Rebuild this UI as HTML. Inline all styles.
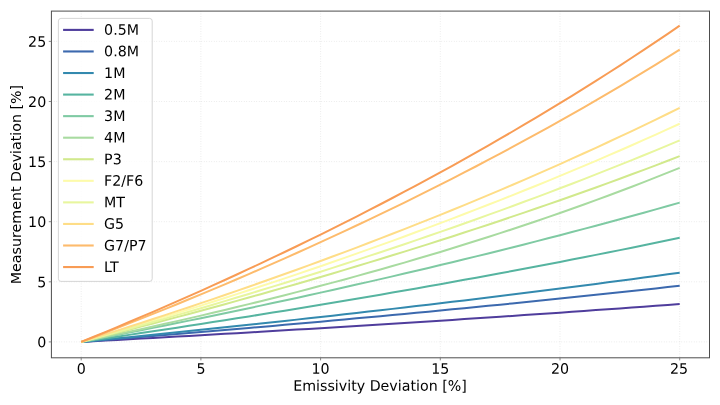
<!DOCTYPE html>
<html><head><meta charset="utf-8"><title>Measurement Deviation vs Emissivity Deviation</title>
<style>
html,body{margin:0;padding:0;background:#fff;}
body{width:720px;height:405px;overflow:hidden;}
svg{display:block;}
text{font-family:"DejaVu Sans", "Liberation Sans", sans-serif;font-size:14.5px;fill:#000;}
</style></head><body>
<svg width="720" height="405" viewBox="0 0 720 405">
<rect x="0" y="0" width="720" height="405" fill="#ffffff"/>

<g stroke="#dbdbdb" stroke-width="0.75" stroke-dasharray="0.7 1.8" fill="none">
<line x1="81.20" y1="11.1" x2="81.20" y2="357.8"/>
<line x1="51.4" y1="341.90" x2="709.5" y2="341.90"/>
<line x1="200.90" y1="11.1" x2="200.90" y2="357.8"/>
<line x1="51.4" y1="281.80" x2="709.5" y2="281.80"/>
<line x1="320.60" y1="11.1" x2="320.60" y2="357.8"/>
<line x1="51.4" y1="221.70" x2="709.5" y2="221.70"/>
<line x1="440.30" y1="11.1" x2="440.30" y2="357.8"/>
<line x1="51.4" y1="161.60" x2="709.5" y2="161.60"/>
<line x1="560.00" y1="11.1" x2="560.00" y2="357.8"/>
<line x1="51.4" y1="101.50" x2="709.5" y2="101.50"/>
<line x1="679.70" y1="11.1" x2="679.70" y2="357.8"/>
<line x1="51.4" y1="41.40" x2="709.5" y2="41.40"/>
</g>
<g fill="none" stroke-width="2" stroke-linecap="butt" stroke-linejoin="round">
<polyline stroke="#4f3d9c" points="81.20,341.90 93.17,341.25 105.14,340.60 117.11,339.94 129.08,339.28 141.05,338.61 153.02,337.95 164.99,337.27 176.96,336.60 188.93,335.92 200.90,335.23 212.87,334.55 224.84,333.86 236.81,333.16 248.78,332.46 260.75,331.75 272.72,331.05 284.69,330.33 296.66,329.62 308.63,328.90 320.60,328.17 332.57,327.44 344.54,326.70 356.51,325.96 368.48,325.22 380.45,324.47 392.42,323.72 404.39,322.96 416.36,322.20 428.33,321.43 440.30,320.65 452.27,319.88 464.24,319.09 476.21,318.30 488.18,317.51 500.15,316.71 512.12,315.91 524.09,315.10 536.06,314.28 548.03,313.46 560.00,312.63 571.97,311.80 583.94,310.96 595.91,310.12 607.88,309.27 619.85,308.41 631.82,307.55 643.79,306.68 655.76,305.81 667.73,304.92 679.70,304.04"/>
<polyline stroke="#3c69ae" points="81.20,341.90 93.17,340.94 105.14,339.98 117.11,339.01 129.08,338.04 141.05,337.06 153.02,336.08 164.99,335.09 176.96,334.09 188.93,333.09 200.90,332.08 212.87,331.06 224.84,330.04 236.81,329.01 248.78,327.98 260.75,326.94 272.72,325.89 284.69,324.84 296.66,323.78 308.63,322.71 320.60,321.64 332.57,320.56 344.54,319.47 356.51,318.37 368.48,317.27 380.45,316.16 392.42,315.05 404.39,313.92 416.36,312.79 428.33,311.65 440.30,310.50 452.27,309.35 464.24,308.19 476.21,307.01 488.18,305.84 500.15,304.65 512.12,303.45 524.09,302.25 536.06,301.04 548.03,299.81 560.00,298.58 571.97,297.34 583.94,296.10 595.91,294.84 607.88,293.57 619.85,292.29 631.82,291.01 643.79,289.71 655.76,288.41 667.73,287.09 679.70,285.77"/>
<polyline stroke="#3389ae" points="81.20,341.90 93.17,340.73 105.14,339.55 117.11,338.36 129.08,337.16 141.05,335.96 153.02,334.75 164.99,333.53 176.96,332.31 188.93,331.08 200.90,329.84 212.87,328.59 224.84,327.33 236.81,326.07 248.78,324.80 260.75,323.52 272.72,322.23 284.69,320.93 296.66,319.63 308.63,318.31 320.60,316.99 332.57,315.66 344.54,314.32 356.51,312.97 368.48,311.61 380.45,310.25 392.42,308.87 404.39,307.48 416.36,306.09 428.33,304.68 440.30,303.26 452.27,301.84 464.24,300.40 476.21,298.96 488.18,297.50 500.15,296.03 512.12,294.56 524.09,293.07 536.06,291.57 548.03,290.06 560.00,288.54 571.97,287.00 583.94,285.46 595.91,283.90 607.88,282.33 619.85,280.75 631.82,279.16 643.79,277.56 655.76,275.94 667.73,274.31 679.70,272.66"/>
<polyline stroke="#56b4a0" points="81.20,341.90 93.17,340.16 105.14,338.41 117.11,336.64 129.08,334.87 141.05,333.08 153.02,331.28 164.99,329.47 176.96,327.65 188.93,325.82 200.90,323.97 212.87,322.11 224.84,320.24 236.81,318.35 248.78,316.45 260.75,314.54 272.72,312.61 284.69,310.68 296.66,308.72 308.63,306.76 320.60,304.78 332.57,302.78 344.54,300.77 356.51,298.75 368.48,296.71 380.45,294.66 392.42,292.59 404.39,290.51 416.36,288.41 428.33,286.29 440.30,284.16 452.27,282.01 464.24,279.85 476.21,277.67 488.18,275.47 500.15,273.26 512.12,271.02 524.09,268.77 536.06,266.51 548.03,264.22 560.00,261.92 571.97,259.59 583.94,257.25 595.91,254.89 607.88,252.51 619.85,250.11 631.82,247.69 643.79,245.25 655.76,242.79 667.73,240.31 679.70,237.81"/>
<polyline stroke="#7fcaa3" points="81.20,341.90 93.17,339.60 105.14,337.29 117.11,334.96 129.08,332.61 141.05,330.24 153.02,327.86 164.99,325.46 176.96,323.05 188.93,320.62 200.90,318.17 212.87,315.70 224.84,313.21 236.81,310.71 248.78,308.18 260.75,305.64 272.72,303.08 284.69,300.50 296.66,297.90 308.63,295.28 320.60,292.64 332.57,289.98 344.54,287.30 356.51,284.60 368.48,281.88 380.45,279.13 392.42,276.37 404.39,273.58 416.36,270.77 428.33,267.94 440.30,265.08 452.27,262.20 464.24,259.30 476.21,256.37 488.18,253.42 500.15,250.45 512.12,247.44 524.09,244.42 536.06,241.37 548.03,238.29 560.00,235.18 571.97,232.05 583.94,228.89 595.91,225.71 607.88,222.49 619.85,219.25 631.82,215.98 643.79,212.68 655.76,209.34 667.73,205.98 679.70,202.59"/>
<polyline stroke="#a8dba0" points="81.20,341.90 93.17,339.41 105.14,336.89 117.11,334.34 129.08,331.76 141.05,329.15 153.02,326.51 164.99,323.83 176.96,321.12 188.93,318.38 200.90,315.60 212.87,312.79 224.84,309.95 236.81,307.07 248.78,304.15 260.75,301.20 272.72,298.20 284.69,295.17 296.66,292.10 308.63,288.99 320.60,285.84 332.57,282.65 344.54,279.42 356.51,276.14 368.48,272.82 380.45,269.45 392.42,266.04 404.39,262.59 416.36,259.08 428.33,255.53 440.30,251.93 452.27,248.27 464.24,244.57 476.21,240.82 488.18,237.01 500.15,233.14 512.12,229.23 524.09,225.25 536.06,221.22 548.03,217.13 560.00,212.97 571.97,208.76 583.94,204.49 595.91,200.15 607.88,195.74 619.85,191.27 631.82,186.73 643.79,182.12 655.76,177.43 667.73,172.68 679.70,167.85"/>
<polyline stroke="#d1e98c" points="81.20,341.90 93.17,338.89 105.14,335.85 117.11,332.79 129.08,329.71 141.05,326.61 153.02,323.48 164.99,320.32 176.96,317.14 188.93,313.94 200.90,310.71 212.87,307.46 224.84,304.18 236.81,300.87 248.78,297.54 260.75,294.18 272.72,290.79 284.69,287.38 296.66,283.93 308.63,280.46 320.60,276.96 332.57,273.43 344.54,269.87 356.51,266.28 368.48,262.66 380.45,259.01 392.42,255.33 404.39,251.61 416.36,247.87 428.33,244.09 440.30,240.28 452.27,236.43 464.24,232.55 476.21,228.63 488.18,224.68 500.15,220.70 512.12,216.67 524.09,212.61 536.06,208.51 548.03,204.38 560.00,200.20 571.97,195.99 583.94,191.74 595.91,187.44 607.88,183.11 619.85,178.73 631.82,174.31 643.79,169.85 655.76,165.34 667.73,160.79 679.70,156.19"/>
<polyline stroke="#fdfbaa" points="81.20,341.90 93.17,338.40 105.14,334.88 117.11,331.32 129.08,327.74 141.05,324.13 153.02,320.49 164.99,316.81 176.96,313.11 188.93,309.38 200.90,305.62 212.87,301.82 224.84,298.00 236.81,294.14 248.78,290.25 260.75,286.32 272.72,282.37 284.69,278.37 296.66,274.35 308.63,270.29 320.60,266.19 332.57,262.06 344.54,257.89 356.51,253.68 368.48,249.43 380.45,245.15 392.42,240.83 404.39,236.47 416.36,232.06 428.33,227.62 440.30,223.14 452.27,218.61 464.24,214.05 476.21,209.44 488.18,204.78 500.15,200.08 512.12,195.34 524.09,190.55 536.06,185.71 548.03,180.83 560.00,175.89 571.97,170.91 583.94,165.88 595.91,160.80 607.88,155.66 619.85,150.48 631.82,145.24 643.79,139.95 655.76,134.60 667.73,129.20 679.70,123.74"/>
<polyline stroke="#e8f69e" points="81.20,341.90 93.17,338.65 105.14,335.37 117.11,332.07 129.08,328.74 141.05,325.39 153.02,322.01 164.99,318.60 176.96,315.16 188.93,311.70 200.90,308.21 212.87,304.69 224.84,301.14 236.81,297.57 248.78,293.96 260.75,290.32 272.72,286.66 284.69,282.96 296.66,279.23 308.63,275.47 320.60,271.68 332.57,267.85 344.54,263.99 356.51,260.10 368.48,256.17 380.45,252.21 392.42,248.22 404.39,244.19 416.36,240.12 428.33,236.02 440.30,231.88 452.27,227.70 464.24,223.48 476.21,219.23 488.18,214.93 500.15,210.60 512.12,206.22 524.09,201.81 536.06,197.35 548.03,192.85 560.00,188.30 571.97,183.71 583.94,179.08 595.91,174.40 607.88,169.68 619.85,164.91 631.82,160.09 643.79,155.22 655.76,150.31 667.73,145.34 679.70,140.32"/>
<polyline stroke="#fedd87" points="81.20,341.90 93.17,338.17 105.14,334.41 117.11,330.61 129.08,326.79 141.05,322.93 153.02,319.05 164.99,315.12 176.96,311.17 188.93,307.18 200.90,303.16 212.87,299.11 224.84,295.02 236.81,290.89 248.78,286.73 260.75,282.53 272.72,278.30 284.69,274.03 296.66,269.72 308.63,265.37 320.60,260.98 332.57,256.55 344.54,252.08 356.51,247.58 368.48,243.03 380.45,238.44 392.42,233.80 404.39,229.12 416.36,224.40 428.33,219.64 440.30,214.82 452.27,209.97 464.24,205.06 476.21,200.11 488.18,195.11 500.15,190.06 512.12,184.96 524.09,179.81 536.06,174.61 548.03,169.36 560.00,164.05 571.97,158.69 583.94,153.28 595.91,147.81 607.88,142.28 619.85,136.69 631.82,131.05 643.79,125.35 655.76,119.58 667.73,113.76 679.70,107.87"/>
<polyline stroke="#fdbb6c" points="81.20,341.90 93.17,337.33 105.14,332.73 117.11,328.08 129.08,323.39 141.05,318.66 153.02,313.88 164.99,309.07 176.96,304.21 188.93,299.30 200.90,294.35 212.87,289.35 224.84,284.30 236.81,279.21 248.78,274.07 260.75,268.88 272.72,263.65 284.69,258.36 296.66,253.02 308.63,247.63 320.60,242.18 332.57,236.69 344.54,231.14 356.51,225.53 368.48,219.87 380.45,214.15 392.42,208.37 404.39,202.54 416.36,196.64 428.33,190.69 440.30,184.67 452.27,178.59 464.24,172.45 476.21,166.24 488.18,159.97 500.15,153.63 512.12,147.22 524.09,140.74 536.06,134.20 548.03,127.58 560.00,120.89 571.97,114.12 583.94,107.28 595.91,100.37 607.88,93.37 619.85,86.30 631.82,79.14 643.79,71.91 655.76,64.59 667.73,57.18 679.70,49.69"/>
<polyline stroke="#f89c55" points="81.20,341.90 93.17,337.00 105.14,332.05 117.11,327.06 129.08,322.02 141.05,316.94 153.02,311.80 164.99,306.62 176.96,301.39 188.93,296.12 200.90,290.79 212.87,285.41 224.84,279.97 236.81,274.49 248.78,268.95 260.75,263.36 272.72,257.71 284.69,252.01 296.66,246.25 308.63,240.43 320.60,234.55 332.57,228.62 344.54,222.62 356.51,216.56 368.48,210.44 380.45,204.26 392.42,198.01 404.39,191.70 416.36,185.32 428.33,178.87 440.30,172.36 452.27,165.77 464.24,159.12 476.21,152.39 488.18,145.59 500.15,138.71 512.12,131.76 524.09,124.73 536.06,117.62 548.03,110.43 560.00,103.16 571.97,95.81 583.94,88.37 595.91,80.85 607.88,73.24 619.85,65.54 631.82,57.75 643.79,49.87 655.76,41.89 667.73,33.82 679.70,25.65"/>
</g>
<rect x="51.4" y="11.1" width="658.10" height="346.70" fill="none" stroke="#4d4d4d" stroke-width="1"/>
<g stroke="#6a6a6a" stroke-width="0.8">
<line x1="81.20" y1="357.8" x2="81.20" y2="360.40000000000003"/>
<line x1="48.8" y1="341.90" x2="51.4" y2="341.90"/>
<line x1="200.90" y1="357.8" x2="200.90" y2="360.40000000000003"/>
<line x1="48.8" y1="281.80" x2="51.4" y2="281.80"/>
<line x1="320.60" y1="357.8" x2="320.60" y2="360.40000000000003"/>
<line x1="48.8" y1="221.70" x2="51.4" y2="221.70"/>
<line x1="440.30" y1="357.8" x2="440.30" y2="360.40000000000003"/>
<line x1="48.8" y1="161.60" x2="51.4" y2="161.60"/>
<line x1="560.00" y1="357.8" x2="560.00" y2="360.40000000000003"/>
<line x1="48.8" y1="101.50" x2="51.4" y2="101.50"/>
<line x1="679.70" y1="357.8" x2="679.70" y2="360.40000000000003"/>
<line x1="48.8" y1="41.40" x2="51.4" y2="41.40"/>
</g>
<text transform="translate(81.20 373.75) rotate(0.03) scale(0.981 1)" text-anchor="middle">0</text>
<text transform="translate(46.20 347.30) rotate(0.03) scale(0.981 1)" text-anchor="end">0</text>
<text transform="translate(200.90 373.75) rotate(0.03) scale(0.981 1)" text-anchor="middle">5</text>
<text transform="translate(46.20 287.20) rotate(0.03) scale(0.981 1)" text-anchor="end">5</text>
<text transform="translate(320.60 373.75) rotate(0.03) scale(0.981 1)" text-anchor="middle">10</text>
<text transform="translate(46.20 227.10) rotate(0.03) scale(0.981 1)" text-anchor="end">10</text>
<text transform="translate(440.30 373.75) rotate(0.03) scale(0.981 1)" text-anchor="middle">15</text>
<text transform="translate(46.20 167.00) rotate(0.03) scale(0.981 1)" text-anchor="end">15</text>
<text transform="translate(560.00 373.75) rotate(0.03) scale(0.981 1)" text-anchor="middle">20</text>
<text transform="translate(46.20 106.90) rotate(0.03) scale(0.981 1)" text-anchor="end">20</text>
<text transform="translate(679.10 373.75) rotate(0.03) scale(0.981 1)" text-anchor="middle">25</text>
<text transform="translate(46.20 46.80) rotate(0.03) scale(0.981 1)" text-anchor="end">25</text>
<text transform="translate(380.00 390.70) rotate(0.03) scale(0.981 1)" text-anchor="middle">Emissivity Deviation [%]</text>
<text transform="translate(21.00 184.50) rotate(-90) scale(0.981 1)" text-anchor="middle">Measurement Deviation [%]</text>
<rect x="58.4" y="18.4" width="93.8" height="263.0" rx="2.6" ry="2.6" fill="#ffffff" fill-opacity="0.8" stroke="#cccccc" stroke-opacity="0.8" stroke-width="1"/>
<line x1="63.1" y1="29.90" x2="93.7" y2="29.90" stroke="#4f3d9c" stroke-width="2.1"/>
<text transform="translate(104.10 34.80) rotate(0.03) scale(0.981 1)" text-anchor="start">0.5M</text>
<line x1="63.1" y1="51.46" x2="93.7" y2="51.46" stroke="#3c69ae" stroke-width="2.1"/>
<text transform="translate(104.10 56.36) rotate(0.03) scale(0.981 1)" text-anchor="start">0.8M</text>
<line x1="63.1" y1="73.02" x2="93.7" y2="73.02" stroke="#3389ae" stroke-width="2.1"/>
<text transform="translate(104.10 77.92) rotate(0.03) scale(0.981 1)" text-anchor="start">1M</text>
<line x1="63.1" y1="94.58" x2="93.7" y2="94.58" stroke="#56b4a0" stroke-width="2.1"/>
<text transform="translate(104.10 99.48) rotate(0.03) scale(0.981 1)" text-anchor="start">2M</text>
<line x1="63.1" y1="116.14" x2="93.7" y2="116.14" stroke="#7fcaa3" stroke-width="2.1"/>
<text transform="translate(104.10 121.04) rotate(0.03) scale(0.981 1)" text-anchor="start">3M</text>
<line x1="63.1" y1="137.70" x2="93.7" y2="137.70" stroke="#a8dba0" stroke-width="2.1"/>
<text transform="translate(104.10 142.60) rotate(0.03) scale(0.981 1)" text-anchor="start">4M</text>
<line x1="63.1" y1="159.26" x2="93.7" y2="159.26" stroke="#d1e98c" stroke-width="2.1"/>
<text transform="translate(104.10 164.16) rotate(0.03) scale(0.981 1)" text-anchor="start">P3</text>
<line x1="63.1" y1="180.82" x2="93.7" y2="180.82" stroke="#fdfbaa" stroke-width="2.1"/>
<text transform="translate(104.10 185.72) rotate(0.03) scale(0.981 1)" text-anchor="start">F2/F6</text>
<line x1="63.1" y1="202.38" x2="93.7" y2="202.38" stroke="#e8f69e" stroke-width="2.1"/>
<text transform="translate(104.10 207.28) rotate(0.03) scale(0.981 1)" text-anchor="start">MT</text>
<line x1="63.1" y1="223.94" x2="93.7" y2="223.94" stroke="#fedd87" stroke-width="2.1"/>
<text transform="translate(104.10 228.84) rotate(0.03) scale(0.981 1)" text-anchor="start">G5</text>
<line x1="63.1" y1="245.50" x2="93.7" y2="245.50" stroke="#fdbb6c" stroke-width="2.1"/>
<text transform="translate(104.10 250.40) rotate(0.03) scale(0.981 1)" text-anchor="start">G7/P7</text>
<line x1="63.1" y1="267.06" x2="93.7" y2="267.06" stroke="#f89c55" stroke-width="2.1"/>
<text transform="translate(104.10 271.96) rotate(0.03) scale(0.981 1)" text-anchor="start">LT</text>
</svg>
</body></html>
